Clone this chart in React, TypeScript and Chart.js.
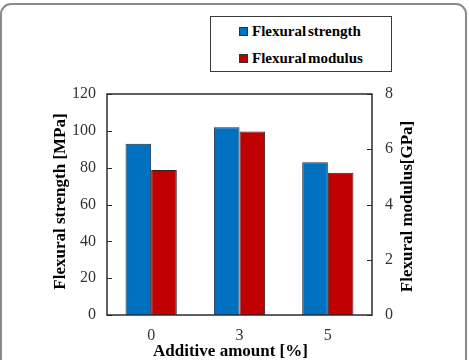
import React, { useEffect, useRef } from "react";
import { Chart, registerables } from "chart.js";

Chart.register(...registerables);

// Additive amount categories and measured flexural properties
const categories = ["0", "3", "5"];
const strengthMPa = [93, 102, 83];
const modulusGPa = [5.25, 6.64, 5.15];

const seriesNames = ["Flexural strength", "Flexural modulus"];
const seriesColors = ["#0070C0", "#C00000"];

const strengthTicks = { min: 0, max: 120, step: 20 };
const modulusTicks = { min: 0, max: 8, step: 2 };

const xTitle = "Additive amount [%]";
const leftTitle = "Flexural strength [MPa]";
const rightTitle = "Flexural modulus[GPa]";

const SERIF = "'Liberation Serif', 'Times New Roman', serif";

// Plot frame, inward tick marks and axis titles
const decorPlugin = {
  id: "decor",
  afterDatasetsDraw(chart: any) {
    const { ctx, chartArea: a, scales } = chart;
    ctx.save();
    ctx.strokeStyle = "#2b2b2b";
    ctx.lineWidth = 1.5;
    ctx.strokeRect(a.left, a.top, a.right - a.left, a.bottom - a.top);
    ctx.lineWidth = 1;
    ["y", "y1"].forEach((id) => {
      const s = scales[id];
      const x0 = id === "y" ? a.left : a.right;
      const dir = id === "y" ? 1 : -1;
      s.ticks.forEach((t: any) => {
        const py = Math.round(s.getPixelForValue(t.value)) + 0.5;
        ctx.beginPath();
        ctx.moveTo(x0, py);
        ctx.lineTo(x0 + dir * 5, py);
        ctx.stroke();
      });
    });
    ctx.restore();
  },
  afterDraw(chart: any) {
    const { ctx, chartArea: a } = chart;
    ctx.save();
    ctx.fillStyle = "#000";
    ctx.font = `bold 17px ${SERIF}`;
    ctx.textAlign = "center";
    ctx.textBaseline = "middle";
    const midY = (a.top + a.bottom) / 2;
    const midX = (a.left + a.right) / 2;
    // x title
    ctx.fillText(xTitle, midX - 9, a.bottom + 37);
    // left title
    ctx.save();
    ctx.translate(a.left - 46, midY - 3);
    ctx.rotate(-Math.PI / 2);
    ctx.fillText(leftTitle, 0, 0);
    ctx.restore();
    // right title
    ctx.save();
    ctx.translate(a.right + 36, midY + 2);
    ctx.rotate(-Math.PI / 2);
    ctx.fillText(rightTitle, 0, 0);
    ctx.restore();
    ctx.restore();
  },
};

export default function App() {
  const canvasRef = useRef<HTMLCanvasElement | null>(null);

  useEffect(() => {
    const canvas = canvasRef.current;
    if (!canvas) return;
    const tickFont = { family: SERIF, size: 16 };
    const chart = new Chart(canvas, {
      type: "bar",
      data: {
        labels: categories,
        datasets: [
          {
            label: seriesNames[0],
            data: strengthMPa,
            yAxisID: "y",
            backgroundColor: seriesColors[0],
            borderColor: "#1d2b3a",
            borderWidth: 1,
          },
          {
            label: seriesNames[1],
            data: modulusGPa,
            yAxisID: "y1",
            backgroundColor: seriesColors[1],
            borderColor: "#3a1d1d",
            borderWidth: 1,
          },
        ],
      },
      options: {
        responsive: false,
        animation: false,
        devicePixelRatio: 1,
        layout: { padding: { top: 94, left: 0, right: 0, bottom: 0 } },
        datasets: { bar: { categoryPercentage: 0.58, barPercentage: 1 } },
        plugins: {
          legend: { display: false },
          tooltip: { enabled: false },
        },
        scales: {
          x: {
            grid: { display: false },
            border: { display: false },
            ticks: { font: tickFont, color: "#333", padding: 3 },
            afterFit: (s: any) => {
              s.height = 45;
            },
          },
          y: {
            position: "left",
            min: strengthTicks.min,
            max: strengthTicks.max,
            grid: { display: false },
            border: { display: false },
            ticks: { stepSize: strengthTicks.step, font: tickFont, color: "#333", padding: 3 },
            afterFit: (s: any) => {
              s.width = 107;
            },
          },
          y1: {
            position: "right",
            min: modulusTicks.min,
            max: modulusTicks.max,
            grid: { display: false },
            border: { display: false },
            ticks: { stepSize: modulusTicks.step, font: tickFont, color: "#333", padding: 5 },
            afterFit: (s: any) => {
              s.width = 97;
            },
          },
        },
      },
      plugins: [decorPlugin],
    });
    return () => chart.destroy();
  }, []);

  return (
    <div
      style={{
        position: "fixed",
        left: 0,
        top: 0,
        width: 469,
        height: 360,
        overflow: "hidden",
        background: "#fff",
      }}
    >
      <canvas ref={canvasRef} width={469} height={360} style={{ position: "absolute", left: 0, top: 0 }} />
      <div
        style={{
          position: "absolute",
          left: 0,
          top: 3,
          width: 463,
          height: 420,
          border: "2px solid #8a8a8a",
          borderRadius: 11,
          pointerEvents: "none",
        }}
      />
      <div
        style={{
          position: "absolute",
          left: 210,
          top: 16,
          width: 180,
          height: 54,
          border: "1px solid #3a3a3a",
          background: "#fff",
          fontFamily: SERIF,
          fontWeight: "bold",
          fontSize: 15,
          color: "#000",
        }}
      >
        {seriesNames.map((name, i) => (
          <div
            key={name}
            style={{
              position: "absolute",
              left: 28,
              top: 5 + i * 27,
              height: 18,
              display: "flex",
              alignItems: "center",
              whiteSpace: "nowrap",
              wordSpacing: -2,
            }}
          >
            <span
              style={{
                display: "inline-block",
                width: 7,
                height: 7,
                background: seriesColors[i],
                border: "1px solid #333",
                marginRight: 4,
              }}
            />
            {name}
          </div>
        ))}
      </div>
    </div>
  );
}
